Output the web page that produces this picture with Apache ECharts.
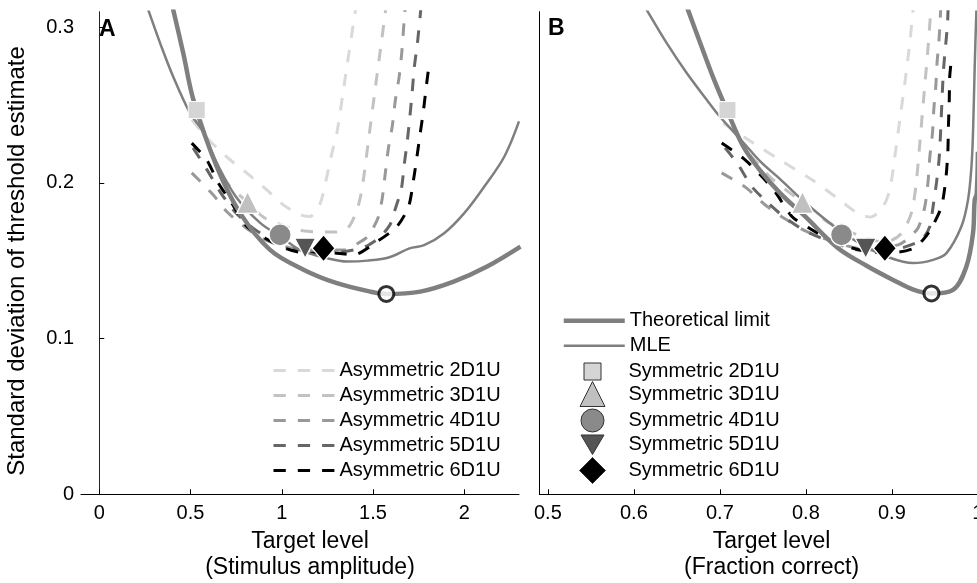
<!DOCTYPE html>
<html>
<head>
<meta charset="utf-8">
<script src="https://cdn.jsdelivr.net/npm/echarts@6/dist/echarts.min.js"></script>
<style>
  html, body { margin: 0; padding: 0; background: #fff; }
  #chart { width: 977px; height: 583px; }
</style>
</head>
<body>
<div id="chart"></div>
<script>
// ---- Tick values ----
const xTicksA = [0, 0.5, 1, 1.5, 2];
const xTicksB = [0.5, 0.6, 0.7, 0.8, 0.9, 1];
const yTicks = [0, 0.1, 0.2, 0.3];

// ---- Panel A: target level in stimulus amplitude ----
const theoryAx = [0.388, 0.406, 0.461, 0.516, 0.644, 0.772, 0.936, 1.119, 1.302, 1.485, 1.575, 1.759, 1.942, 2.125, 2.308];
const theoryAy = [0.320, 0.311, 0.283, 0.2534, 0.2105, 0.1806, 0.157, 0.1443, 0.1356, 0.1302, 0.1287, 0.1302, 0.1366, 0.1463, 0.1591];

const mleAx = [0.242, 0.269, 0.333, 0.406, 0.497, 0.56, 0.65, 0.75, 0.88, 1.00, 1.10, 1.247, 1.36, 1.47, 1.59, 1.70, 1.78, 1.89, 2.00, 2.11, 2.22, 2.30];
const mleAy = [0.320, 0.311, 0.290, 0.268, 0.2449, 0.2345, 0.2115, 0.191, 0.1745, 0.1650, 0.157, 0.1517, 0.1495, 0.1501, 0.1523, 0.158, 0.160, 0.1677, 0.1806, 0.1977, 0.217, 0.2395];

const asym2Ax = [0.508, 0.552, 0.617, 0.717, 0.809, 0.918, 1.009, 1.101, 1.156, 1.211, 1.247, 1.275, 1.302, 1.357, 1.403, 1.42];
const asym2Ay = [0.2406, 0.2342, 0.2256, 0.2149, 0.2063, 0.1956, 0.1859, 0.1795, 0.1785, 0.187, 0.2041, 0.2192, 0.232, 0.2748, 0.3102, 0.322];

const asym3Ax = [0.62, 0.70, 0.813, 0.90, 1.00, 1.07, 1.20, 1.30, 1.348, 1.375, 1.413, 1.441, 1.477, 1.51, 1.544, 1.567, 1.573];
const asym3Ay = [0.218, 0.200, 0.1875, 0.178, 0.173, 0.170, 0.1685, 0.1685, 0.1699, 0.173, 0.1827, 0.197, 0.229, 0.2586, 0.2887, 0.309, 0.3157];

const asym4Ax = [0.507, 0.624, 0.695, 0.805, 0.909, 1.046, 1.211, 1.348, 1.414, 1.474, 1.529, 1.551, 1.567, 1.584, 1.606, 1.622, 1.644, 1.658, 1.671, 1.68];
const asym4Ay = [0.2065, 0.1924, 0.182, 0.171, 0.1634, 0.1583, 0.157, 0.157, 0.161, 0.166, 0.178, 0.1904, 0.2059, 0.222, 0.2367, 0.2528, 0.2688, 0.2842, 0.305, 0.318];

const asym5Ax = [0.514, 0.591, 0.662, 0.744, 0.854, 0.991, 1.128, 1.32, 1.457, 1.539, 1.594, 1.617, 1.655, 1.671, 1.688, 1.702, 1.715, 1.726, 1.743, 1.759, 1.766];
const asym5Ay = [0.2225, 0.2084, 0.1943, 0.1814, 0.170, 0.161, 0.1563, 0.1557, 0.159, 0.1653, 0.1733, 0.1815, 0.196, 0.2117, 0.227, 0.2425, 0.2586, 0.274, 0.2894, 0.3079, 0.318];

const asym6Ax = [0.507, 0.589, 0.653, 0.726, 0.809, 0.909, 1.019, 1.128, 1.302, 1.393, 1.522, 1.631, 1.695, 1.722, 1.741, 1.759, 1.777, 1.792, 1.810];
const asym6Ay = [0.2256, 0.2148, 0.1999, 0.187, 0.172, 0.1645, 0.158, 0.155, 0.1549, 0.1538, 0.1623, 0.172, 0.1848, 0.202, 0.217, 0.232, 0.247, 0.262, 0.2785];

const symAx = [0.534, 0.813, 0.991, 1.128, 1.229];
const optAx = [1.573];

// ---- Panel B: target level as fraction correct ----
const theoryBx = [0.657, 0.663, 0.677, 0.692, 0.708, 0.7272, 0.7475, 0.77, 0.80, 0.8375, 0.87, 0.9014, 0.925, 0.946, 0.9711, 0.9866, 0.9943, 0.9963, 0.9986, 1.0];
const theoryBy = [0.320, 0.311, 0.290, 0.268, 0.247, 0.2234, 0.2075, 0.1935, 0.178, 0.158, 0.147, 0.1377, 0.1315, 0.129, 0.1313, 0.1463, 0.1677, 0.1891, 0.193, 0.22];

const mleBx = [0.605, 0.615, 0.6382, 0.6614, 0.6847, 0.7001, 0.7272, 0.7475, 0.77, 0.80, 0.8415, 0.87, 0.8937, 0.9246, 0.9479, 0.9634, 0.9808, 0.9885, 0.9925, 0.9943, 0.9963, 0.9983, 0.9992];
const mleBy = [0.320, 0.311, 0.2898, 0.2706, 0.2534, 0.2425, 0.226, 0.2135, 0.2025, 0.187, 0.1685, 0.159, 0.1527, 0.1485, 0.1506, 0.1549, 0.172, 0.1891, 0.2105, 0.232, 0.2748, 0.3113, 0.320];

const asym2Bx = [0.704, 0.7388, 0.7698, 0.8085, 0.8395, 0.863, 0.876, 0.8898, 0.8976, 0.9034, 0.9092, 0.915, 0.9208, 0.9246, 0.926];
const asym2By = [0.2384, 0.2256, 0.2148, 0.2015, 0.189, 0.1794, 0.1782, 0.1848, 0.1956, 0.217, 0.2406, 0.2641, 0.2898, 0.3113, 0.320];

const asym3Bx = [0.735, 0.76, 0.796, 0.828, 0.863, 0.885, 0.901, 0.9127, 0.9231, 0.9283, 0.9318, 0.9353, 0.9388, 0.9423, 0.9446, 0.9458];
const asym3By = [0.218, 0.203, 0.1875, 0.174, 0.166, 0.1625, 0.1635, 0.1686, 0.1814, 0.200, 0.2213, 0.2438, 0.2663, 0.2888, 0.3061, 0.3145];

const asym4Bx = [0.702, 0.7303, 0.7524, 0.7757, 0.80, 0.8415, 0.875, 0.9072, 0.917, 0.9304, 0.9382, 0.942, 0.944, 0.9472, 0.9487, 0.951, 0.9525, 0.9548, 0.9562, 0.957];
const asym4By = [0.2065, 0.197, 0.186, 0.177, 0.169, 0.1605, 0.157, 0.1602, 0.1634, 0.1711, 0.1846, 0.2007, 0.2161, 0.2322, 0.247, 0.2618, 0.2772, 0.292, 0.3055, 0.315];

const asym5Bx = [0.706, 0.721, 0.737, 0.757, 0.776, 0.80, 0.83, 0.86, 0.89, 0.91, 0.9344, 0.944, 0.9478, 0.9518, 0.9548, 0.9564, 0.9576, 0.9588, 0.9599, 0.9622, 0.9646, 0.9655];
const asym5By = [0.2225, 0.212, 0.1977, 0.1866, 0.1776, 0.169, 0.162, 0.157, 0.156, 0.158, 0.1634, 0.1718, 0.1846, 0.200, 0.2148, 0.2297, 0.2451, 0.2599, 0.272, 0.2868, 0.3016, 0.315];

const asym6Bx = [0.7021, 0.728, 0.748, 0.765, 0.784, 0.805, 0.828, 0.854, 0.88, 0.905, 0.925, 0.937, 0.946, 0.9576, 0.9626, 0.965, 0.9657, 0.9667, 0.9672, 0.9692];
const asym6By = [0.2256, 0.2155, 0.2046, 0.1937, 0.1783, 0.1706, 0.1635, 0.1582, 0.1555, 0.1555, 0.158, 0.164, 0.171, 0.1848, 0.202, 0.2193, 0.236, 0.2534, 0.268, 0.2795];

const symBx = [0.7088, 0.796, 0.8415, 0.8695, 0.8918];
const optBx = [0.946];

// ---- Shared values ----
const symY = [0.2468, 0.1875, 0.1667, 0.1581, 0.1581];
const optAy = [0.1287];
const optBy = [0.129];

const asymNames = ['Asymmetric 2D1U', 'Asymmetric 3D1U', 'Asymmetric 4D1U', 'Asymmetric 5D1U', 'Asymmetric 6D1U'];
const symNames = ['Symmetric 2D1U', 'Symmetric 3D1U', 'Symmetric 4D1U', 'Symmetric 5D1U', 'Symmetric 6D1U'];

// ---- Styling ----
const FONT = '"Liberation Sans", Arial, Helvetica, sans-serif';
const asymColors = ['#d9d9d9', '#c2c2c2', '#999999', '#666666', '#000000'];
const symColors = ['#d5d5d5', '#c0c0c0', '#8a8a8a', '#555555', '#000000'];
const symShapes = ['rect', 'triangle', 'circle', 'triangle', 'diamond'];
const symRotate = [0, 0, 0, 180, 0];
const symSizes = [17, 22, 22, [21, 20], [23, 27]];
// legend swatch shapes (the downward triangle is spelled out as a path)
const legendIcons = ['rect', 'triangle', 'circle', 'path://M0,0L26,0L13,22Z', 'diamond'];
const legendSizes = [17, 25, 23, 23, 26];
const legendRows = [370, 393.5, 420, 446, 470];
const DASH = [12.3, 12];
const LEGEND_ICON_X = 592;   // centre of legend swatches in panel B
const LEGEND_TEXT_X = 628;   // start of legend labels in panel B

const zip = (xs, ys) => xs.map((x, i) => [x, ys[i]]);

const asymA = [[asym2Ax, asym2Ay], [asym3Ax, asym3Ay], [asym4Ax, asym4Ay], [asym5Ax, asym5Ay], [asym6Ax, asym6Ay]];
const asymB = [[asym2Bx, asym2By], [asym3Bx, asym3By], [asym4Bx, asym4By], [asym5Bx, asym5By], [asym6Bx, asym6By]];

function solid(name, xs, ys, grid, width) {
  return {
    name, type: 'line', xAxisIndex: grid, yAxisIndex: grid,
    data: zip(xs, ys), symbol: 'none', smooth: 0.35, z: 3,
    lineStyle: { color: '#7f7f7f', width: width }, itemStyle: { color: '#7f7f7f' },
    silent: true, animation: false
  };
}
function dashed(i, pair, grid) {
  return {
    name: asymNames[i], type: 'line', xAxisIndex: grid, yAxisIndex: grid,
    data: zip(pair[0], pair[1]), symbol: 'none', smooth: 0.25, z: 2,
    lineStyle: { color: asymColors[i], width: 3, type: DASH },
    itemStyle: { color: asymColors[i] }, silent: true, animation: false
  };
}
function marker(i, xs, grid) {
  return {
    name: symNames[i], type: 'scatter', xAxisIndex: grid, yAxisIndex: grid,
    data: [[xs[i], symY[i]]], symbol: symShapes[i], symbolSize: symSizes[i],
    symbolRotate: symRotate[i], z: 4,
    itemStyle: { color: symColors[i], borderColor: '#ffffff', borderWidth: i === 0 ? 1 : 1.3, opacity: 1 },
    silent: true, animation: false
  };
}
function optimum(xs, ys, grid) {
  return {
    name: 'Optimum', type: 'scatter', xAxisIndex: grid, yAxisIndex: grid,
    data: zip(xs, ys), symbol: 'circle', symbolSize: 15, z: 5,
    itemStyle: { color: '#ffffff', borderColor: '#000000', borderWidth: 3 },
    silent: true, animation: false
  };
}

const series = [];
series.push(solid('Theoretical limit', theoryAx, theoryAy, 0, 4.5));
series.push(solid('MLE', mleAx, mleAy, 0, 2.5));
series.push(solid('Theoretical limit', theoryBx, theoryBy, 1, 4.5));
series.push(solid('MLE', mleBx, mleBy, 1, 2.5));
asymA.forEach((p, i) => series.push(dashed(i, p, 0)));
asymB.forEach((p, i) => series.push(dashed(i, p, 1)));
for (let i = 0; i < 5; i++) {
  series.push(marker(i, symAx, 0));
  series.push(marker(i, symBx, 1));
}
series.push(optimum(optAx, optAy, 0));
series.push(optimum(optBx, optBy, 1));

const legendText = { fontFamily: FONT, fontSize: 20, color: '#000', lineHeight: 20 };
const legends = [
  {
    data: asymNames, orient: 'vertical', left: 272, top: 360.5, padding: 0,
    itemWidth: 61, itemHeight: 20, itemGap: 5, selectedMode: false,
    textStyle: legendText, lineStyle: { width: 'inherit', type: 'inherit' },
    itemStyle: { opacity: 0 }
  },
  {
    data: ['Theoretical limit', 'MLE'], orient: 'vertical', left: 561.5, top: 310.7, padding: 0,
    itemWidth: 61, itemHeight: 20, itemGap: 5, selectedMode: false,
    textStyle: legendText, lineStyle: { width: 'inherit' },
    itemStyle: { opacity: 0 }
  }
];
symNames.forEach((n, i) => {
  const s = legendSizes[i];
  legends.push({
    data: [{ name: n, icon: legendIcons[i] }], orient: 'vertical',
    left: LEGEND_ICON_X - s / 2, top: legendRows[i] - s / 2, padding: 0,
    itemWidth: s, itemHeight: s, selectedMode: false, symbolKeepAspect: true,
    textStyle: Object.assign({}, legendText, { padding: [0, 0, 0, LEGEND_TEXT_X - (LEGEND_ICON_X + s / 2 + 5)] }),
    itemStyle: { borderColor: '#333333', borderWidth: 1 }
  });
});

function xAxis(grid, min, max, ticks, name, shift) {
  return {
    type: 'value', gridIndex: grid, min, max,
    axisLine: { show: true, onZero: false, lineStyle: { color: '#000', width: 1 } },
    axisTick: { show: true, inside: true, length: 5, customValues: ticks, lineStyle: { color: '#000' } },
    axisLabel: { customValues: ticks, fontFamily: FONT, fontSize: 20, color: '#000', margin: 9 },
    splitLine: { show: false },
    name, nameLocation: 'middle', nameGap: 32,
    nameTextStyle: { fontFamily: FONT, fontSize: 23, color: '#000', lineHeight: 26, padding: [0, 0, 0, shift] }
  };
}

const option = {
  backgroundColor: '#ffffff',
  animation: false,
  grid: [
    { left: 81, top: 11.7, width: 438, height: 482.6, outerBoundsMode: 'none' },
    { left: 539.3, top: 11.7, width: 438.6, height: 482.6, outerBoundsMode: 'none' }
  ],
  xAxis: [
    xAxis(0, -0.1, 2.3, xTicksA, 'Target level\n(Stimulus amplitude)', 20),
    xAxis(1, 0.49, 1.0, xTicksB, 'Target level\n(Fraction correct)', 26)
  ],
  yAxis: [
    {
      type: 'value', gridIndex: 0, min: 0, max: 0.31,
      axisLine: { show: true, lineStyle: { color: '#222', width: 1 } },
      axisTick: { show: true, inside: true, length: 5, customValues: yTicks, lineStyle: { color: '#000' } },
      axisLabel: { customValues: yTicks, fontFamily: FONT, fontSize: 20, color: '#000', margin: 7 },
      splitLine: { show: false },
      name: 'Standard deviation of threshold estimate', nameLocation: 'middle', nameGap: 52,
      nameTextStyle: { fontFamily: FONT, fontSize: 24, color: '#000', padding: [0, 16, 0, 0] }
    },
    {
      type: 'value', gridIndex: 1, min: 0, max: 0.31,
      axisLine: { show: true, lineStyle: { color: '#000', width: 1 } },
      axisTick: { show: false }, axisLabel: { show: false }, splitLine: { show: false }
    }
  ],
  legend: legends,
  graphic: [
    { type: 'text', left: 99, top: 18, style: { text: 'A', font: 'bold 23px ' + FONT, fill: '#000' } },
    { type: 'text', left: 548, top: 17, style: { text: 'B', font: 'bold 23px ' + FONT, fill: '#000' } }
  ],
  series
};

const chart = echarts.init(document.getElementById('chart'), null, { renderer: 'canvas' });
chart.setOption(option);
</script>
</body>
</html>
